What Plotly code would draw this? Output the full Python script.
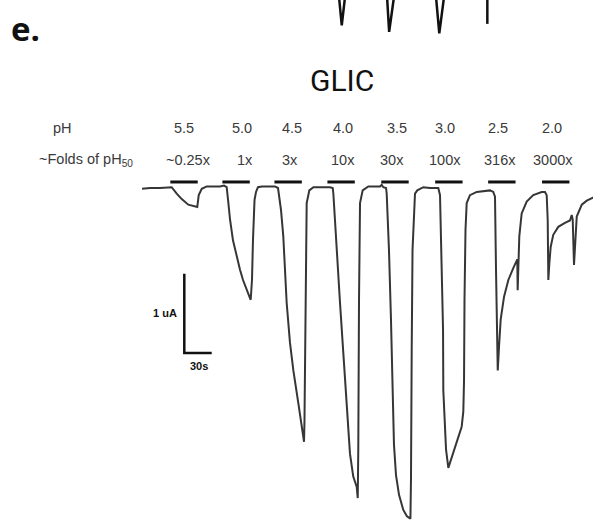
import plotly.graph_objects as go

# ---- recording: GLIC current trace (time in s, current in uA) ----
time_s = [0, 8.8, 19.7, 32.5, 38.0, 43.5, 50.7, 60.5, 62.1, 65.4, 70.8, 85.4, 89.8, 92.7,
          94.2, 96.4, 99.6, 103.7, 107.3, 110.6, 113.9, 118.2, 119.0,
          120.4, 121.5, 122.1, 123.2, 124.8, 127.0, 131.4, 145.6, 148.9,
          152.2, 154.7, 158.4, 162.0, 165.7, 171.1, 174.9, 177.4,
          177.9, 179.0, 180.3, 183.2, 187.6, 205.8, 208.8,
          209.5, 213.2, 216.8, 220.4, 224.1, 227.7, 231.3, 235.1, 236.2,
          236.8, 237.6, 238.7, 241.6, 247.8, 260.6, 262.4, 264.2, 267.2,
          267.9, 270.4, 272.6, 274.5, 275.9, 278.1, 281.4, 286.1, 290.1, 293.9,
          294.5, 295.3, 296.2, 298.9, 301.4, 308.0, 315.3, 324.4,
          326.3, 327.9, 329.6, 329.9, 331.2, 332.9, 335.4,
          342.7, 350.0, 351.8, 352.6, 353.1, 354.2, 355.5, 359.1, 366.5, 381.0, 384.6,
          386.5, 387.6, 388.4, 389.5, 390.9, 392.7, 396.4, 401.1, 406.5, 410.9, 411.3,
          412.0, 413.1, 415.7, 421.2, 428.4, 437.6, 441.2, 443.1,
          444.2, 444.9, 446.0, 447.5, 450.3, 455.8, 463.1, 468.6, 470.5, 471.6, 473.0,
          474.4, 476.0, 481.5, 487.0, 493.8, 497.1]
current_uA = [-0.01, 0, 0, 0.01, -0.07, -0.14, -0.21, -0.24, -0.09, -0.01, 0.02, 0.02, 0.03, 0.01,
              -0.15, -0.40, -0.66, -0.87, -1.03, -1.16, -1.27, -1.39, -1.41,
              -1.16, -0.66, -0.34, -0.15, -0.05, 0.01, 0.02, 0.02, 0,
              -0.28, -0.61, -1.45, -1.95, -2.30, -2.71, -3.05, -3.20,
              -2.93, -1.41, -0.19, -0.03, 0.01, 0.01, 0,
              -0.07, -0.82, -1.45, -2.08, -2.71, -3.35, -3.64, -3.77, -3.91,
              -3.30, -1.41, -0.19, -0.03, 0.02, 0.02, 0.04, 0.01, 0,
              -0.07, -0.78, -1.66, -2.67, -3.24, -3.62, -3.87, -4.06, -4.14, -4.17,
              -3.68, -2.04, -0.78, -0.07, -0.03, 0.01, 0, 0,
              -0.09, -0.91, -1.79, -2.55, -2.93, -3.30, -3.53,
              -3.27, -3.01, -2.82, -2.42, -1.41, -0.53, -0.19, -0.09, -0.05, -0.03, -0.05,
              -0.11, -1.03, -1.88, -2.30, -2.00, -1.66, -1.37, -1.16, -1.01, -0.90, -1.29,
              -0.91, -0.61, -0.32, -0.17, -0.09, -0.05, -0.05, -0.09,
              -0.40, -1.16, -0.95, -0.74, -0.59, -0.49, -0.44, -0.41, -0.34, -0.40, -0.97,
              -0.61, -0.36, -0.21, -0.16, -0.12, -0.10]

# tail of the panel above (peaks of the preceding recording)
prev_time_s = [215.7, 218.7, 222.3, None, 268.3, 270.6, 275.9, None,
               321.9, 325.5, 330.7, None, 378.1, 378.1]
prev_current_uA = [2.41, 2.05, 2.41, None, 2.41, 1.97, 2.41, None,
                   2.41, 1.95, 2.41, None, 2.41, 2.07]

# ---- proton applications ----
ph_values = ["5.5", "5.0", "4.5", "4.0", "3.5", "3.0", "2.5", "2.0"]
fold_labels = ["~0.25x", "1x", "3x", "10x", "30x", "100x", "316x", "3000x"]
application_start_s = [31, 88, 145, 203, 262, 321, 379, 438]
application_length_s = 30

# ---- scale bar ----
scale_current_uA = 1
scale_time_s = 30

# ---- layout constants ----
W, H = 593, 522
X_RANGE = [-155.5, 493.8]
Y_RANGE = [-4.212, 2.371]
BAR_LEVEL = 0.076
SCALE_ORIGIN = (46.3, -2.08)
PH_LABEL_X = [46.0, 109.5, 164.2, 220.1, 279.2, 331.8, 389.8, 448.9]
FOLD_LABEL_X = [50.4, 112.8, 162.0, 220.1, 273.7, 331.8, 392.0, 450.0]
LABEL_FONT = dict(family="Liberation Sans, Arial, sans-serif", size=14.5, color="#3a3a3a")


def paper_y(py):
    return 1 - py / H


fig = go.Figure()

# current trace
fig.add_trace(go.Scatter(x=time_s, y=current_uA, mode="lines",
                         line=dict(color="#363636", width=2), hoverinfo="skip"))

# preceding panel remnant
fig.add_trace(go.Scatter(x=prev_time_s, y=prev_current_uA, mode="lines",
                         line=dict(color="#111111", width=2.5), hoverinfo="skip",
                         connectgaps=False))

# application bars
bar_x, bar_y = [], []
for s in application_start_s:
    bar_x += [s, s + application_length_s, None]
    bar_y += [BAR_LEVEL, BAR_LEVEL, None]
fig.add_trace(go.Scatter(x=bar_x, y=bar_y, mode="lines",
                         line=dict(color="#111111", width=3), hoverinfo="skip"))

# scale bar
sx, sy = SCALE_ORIGIN
fig.add_trace(go.Scatter(x=[sx, sx, sx + scale_time_s],
                         y=[sy + scale_current_uA, sy, sy], mode="lines",
                         line=dict(color="#111111", width=2.5), hoverinfo="skip"))

annotations = []
# row headers
annotations.append(dict(x=62 / W, y=paper_y(128), xref="paper", yref="paper",
                        text="pH", showarrow=False, font=LABEL_FONT,
                        xanchor="center", yanchor="middle"))
annotations.append(dict(x=37 / W, y=paper_y(160), xref="paper", yref="paper",
                        text="~Folds of pH<sub>50</sub>", showarrow=False, font=LABEL_FONT,
                        xanchor="left", yanchor="middle"))
for xv, lab in zip(PH_LABEL_X, ph_values):
    annotations.append(dict(x=xv, y=paper_y(128), xref="x", yref="paper", text=lab,
                            showarrow=False, font=LABEL_FONT,
                            xanchor="center", yanchor="middle"))
for xv, lab in zip(FOLD_LABEL_X, fold_labels):
    annotations.append(dict(x=xv, y=paper_y(160), xref="x", yref="paper", text=lab,
                            showarrow=False, font=LABEL_FONT,
                            xanchor="center", yanchor="middle"))

# scale bar labels
SCALE_FONT = dict(family="Liberation Sans, Arial, sans-serif", size=11, color="#111111")
annotations.append(dict(x=sx - 6, y=sy + scale_current_uA * 0.5, xref="x", yref="y",
                        text="<b>1 uA</b>", showarrow=False, font=SCALE_FONT,
                        xanchor="right", yanchor="middle"))
annotations.append(dict(x=sx + scale_time_s * 0.5 + 1, y=paper_y(366), xref="x", yref="paper",
                        text="<b>30s</b>", showarrow=False, font=SCALE_FONT,
                        xanchor="center", yanchor="middle"))

# title and panel letter
annotations.append(dict(x=342 / W, y=paper_y(81), xref="paper", yref="paper",
                        text="GLIC", showarrow=False,
                        font=dict(family="Roboto, sans-serif", size=30, color="#111111"),
                        xanchor="center", yanchor="middle"))
annotations.append(dict(x=9 / W, y=paper_y(28), xref="paper", yref="paper",
                        text="<b>e.</b>", showarrow=False,
                        font=dict(family="Open Sans, sans-serif", size=33, color="#111111"),
                        xanchor="left", yanchor="middle"))

fig.update_layout(
    width=W, height=H,
    margin=dict(l=0, r=0, t=0, b=0),
    paper_bgcolor="white", plot_bgcolor="white",
    showlegend=False,
    annotations=annotations,
    xaxis=dict(range=X_RANGE, visible=False, fixedrange=True),
    yaxis=dict(range=Y_RANGE, visible=False, fixedrange=True),
)

fig.write_html("out.html")
